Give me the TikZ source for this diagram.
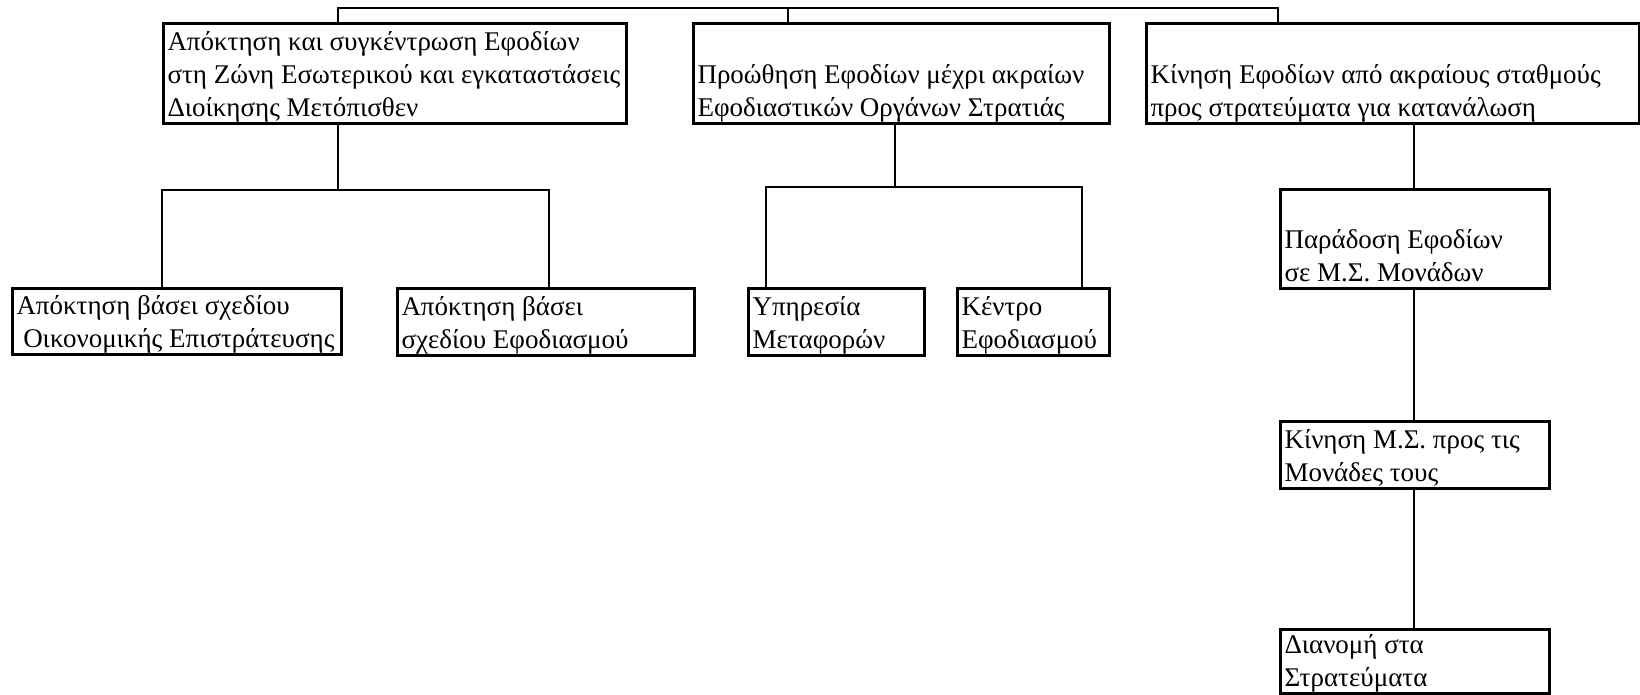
\documentclass[tikz,border=0pt]{standalone}
\usepackage{fontspec}
\setmainfont{Liberation Serif}
\usetikzlibrary{positioning}
\newcommand{\boxtext}[3]{\parbox[c][\dimexpr#2pt-7pt\relax][b]{#1pt}{#3\rule[-7pt]{0pt}{7pt}}}

\begin{document}
\begin{tikzpicture}[x=1pt,y=-1pt,font=\fontsize{27}{33}\selectfont,
		box/.style={draw,line width=3pt,inner xsep=4pt,inner ysep=0pt,anchor=north west},
		link/.style={line width=1.5pt}]
			\useasboundingbox (0,0) rectangle (1640,694);
			
			%%% top row
			\node[box] (acq) at (162,22) {\boxtext{455}{100}{Απόκτηση και συγκέντρωση Εφοδίων\\στη Ζώνη Εσωτερικού και εγκαταστάσεις\\Διοίκησης Μετόπισθεν}};
			\node[box] (prom) at (692,22) {\boxtext{408}{100}{Προώθηση Εφοδίων μέχρι ακραίων\\Εφοδιαστικών Οργάνων Στρατιάς}};
			\node[box] (move) at (1145,22) {\boxtext{485}{100}{Κίνηση Εφοδίων από ακραίους σταθμούς\\προς στρατεύματα για κατανάλωση}};
			
			%%% second row
			\node[box] (acqeco) at (11,287) {\boxtext{321}{66}{Απόκτηση βάσει σχεδίου\\\hspace*{0.25em}Οικονομικής Επιστράτευσης}};
			\node[box] (acqsup) at (396,287) {\boxtext{289}{67}{Απόκτηση βάσει\\σχεδίου Εφοδιασμού}};
			\node[box] (trans) at (747,287) {\boxtext{168}{67}{Υπηρεσία\\Μεταφορών}};
			\node[box] (centre) at (956,287) {\boxtext{144}{67}{Κέντρο\\Εφοδιασμού}};
			
			%%% right column
			\node[box] (deliv) at (1279,188) {\boxtext{261}{99}{Παράδοση Εφοδίων\\σε Μ.Σ. Μονάδων}};
			\node[box] (units) at (1279,420) {\boxtext{261}{67}{Κίνηση Μ.Σ. προς τις\\Μονάδες τους}};
			\node[box] (distr) at (1279,628) {\boxtext{261}{64}{Διανομή στα\\Στρατεύματα}};
			
			%%% connectors
			\coordinate (bar1) at (338,8);
			\coordinate (bar2) at (788,8);
			\coordinate (bar3) at (1278,8);
			\draw[link] (acq.north -| bar1) -- (bar1) -- (bar3) -- (move.north -| bar3);
			\draw[link] (bar2) -- (prom.north -| bar2);
			
			\coordinate (fork1) at (338,190);
			\coordinate (fork1l) at (162,190);
			\coordinate (fork1r) at (549,190);
			\draw[link] (acq.south -| fork1) -- (fork1);
			\draw[link] (acqeco.north -| fork1l) -- (fork1l) -- (fork1r) -- (acqsup.north -| fork1r);
			
			\coordinate (fork2) at (895,187);
			\coordinate (fork2l) at (766,187);
			\coordinate (fork2r) at (1082,187);
			\draw[link] (prom.south -| fork2) -- (fork2);
			\draw[link] (trans.north -| fork2l) -- (fork2l) -- (fork2r) -- (centre.north -| fork2r);
			
			\coordinate (col) at (1414,0);
			\draw[link] (move.south -| col) -- (deliv.north -| col);
			\draw[link] (deliv.south -| col) -- (units.north -| col);
			\draw[link] (units.south -| col) -- (distr.north -| col);
		\end{tikzpicture}
\end{document}
